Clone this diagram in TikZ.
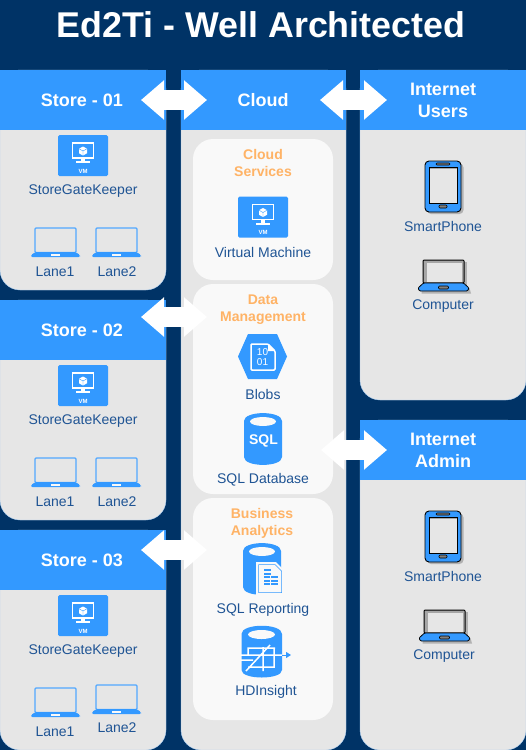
\documentclass[tikz,border=0pt]{standalone}
\usepackage{fontspec}
\setmainfont{Liberation Sans}
\usepackage{tikz}
\usetikzlibrary{arrows.meta, positioning}
\definecolor{fondo}{HTML}{003366}
\definecolor{azul}{HTML}{3399FF}
\definecolor{gris}{HTML}{E6E6E6}
\definecolor{claro}{HTML}{F9F9F9}
\definecolor{naranja}{HTML}{FFB366}
\definecolor{texto}{HTML}{1F5494}
\tikzset{
	titulo/.style={font=\fontsize{35.8}{40}\bfseries\selectfont, text=white},
	cabecera/.style={font=\fontsize{18}{22}\bfseries\selectfont, text=white, align=center},
	grupo/.style={font=\fontsize{14}{17}\bfseries\selectfont, text=naranja, align=center},
	etiqueta/.style={font=\fontsize{14}{17}\selectfont, text=texto},
	panel/.style={fill=gris, draw=azul!35!gris, line width=0.4pt, rounded corners=20pt},
	flecha/.style={line width=20pt, white, {Triangle[length=23pt,width=38pt]}-{Triangle[length=23pt,width=38pt]}},
	pics/vmicon/.style={code={
		\fill[azul, rounded corners=1.5pt] (-25,-20.5) rectangle (25,20.5);
		\draw[white, line width=1.3pt] (-10.5,-12.5) rectangle (10.5,2.5);
		\fill[white] (-2,2.5) rectangle (2,6);
		\fill[white] (-7,5.5) rectangle (7,7.5);
		\fill[white] (0,-9) -- (4,-6.8) -- (4,-2.2) -- (0,0) -- (-4,-2.2) -- (-4,-6.8) -- cycle;
		\draw[azul, line width=0.4pt] (-4,-6.8) -- (0,-4.5) -- (4,-6.8) (0,-4.5) -- (0,0);
		\node[font=\fontsize{6}{6}\bfseries\selectfont, text=white] (-vm) at (0,15.5) {VM};
	}},
	pics/laptopicon/.style={code={
		\draw[azul!85!white, line width=1.1pt, fill=gris, rounded corners=1pt] (-20.5,-14) rectangle (20.5,10.5);
		\fill[azul, rounded corners=1.5pt] (-20,10) -- (20,10) -- (24.5,13) -- (24.5,15) -- (-24.5,15) -- (-24.5,13) -- cycle;
		\fill[claro] (-4.5,12) rectangle (4.5,13.5);
	}},
	pics/phoneicon/.style={code={
		\fill[black!30, rounded corners=4pt] (-16,-23) rectangle (20.5,27.5);
		\draw[black, line width=0.9pt, fill=azul, rounded corners=4pt] (-18,-25.5) rectangle (18,25.5);
		\draw[black, line width=0.8pt, fill=black!35] (-14,-19.5) rectangle (14,16.5);
		\fill[gris] (-12.8,-18) rectangle (13.5,16);
		\draw[black, line width=0.6pt, fill=gray, rounded corners=1pt] (-7,-23.5) rectangle (7,-21.5);
		\draw[black, line width=0.6pt, fill=gray, rounded corners=1pt] (-4,18.5) rectangle (4,21.5);
	}},
	pics/computericon/.style={code={
		\fill[black!30] (-18,-13) rectangle (23,11);
		\fill[black!30] (-22,13) -- (26,13) -- (27.5,18.5) -- (-22,18.5) -- cycle;
		\draw[black, line width=1pt, fill=black!35, rounded corners=1pt] (-20.5,-15) rectangle (20.5,8);
		\fill[gris] (-16.8,-12) rectangle (18,7);
		\draw[black, line width=0.8pt, fill=azul, rounded corners=1pt] (-20,8) -- (20,8) -- (25.5,13) -- (24,16) -- (-24,16) -- (-25.5,13) -- cycle;
		\draw[black, line width=0.6pt, fill=gray, rounded corners=1pt] (-5,11) rectangle (5,14);
	}},
	pics/cilindro/.style={code={
		\fill[azul] (-19,-18) -- (-19,18) .. controls (-19,28.5) and (19,28.5) .. (19,18) -- (19,-18) .. controls (19,-28.5) and (-19,-28.5) .. (-19,-18) -- cycle;
		\fill[claro] (0,-17.5) ellipse (13 and 4.5);
	}},
}
\newcommand{\tienda}[4]{% y, nombre, x de los portatiles
	\fill[panel] (0,#1) rectangle (166,#1+220);
	\fill[azul] (0,#1) rectangle (166,#1+60);
	\node[cabecera] (#4head) at (82,#1+30) {#2};
	\pic (#4vm) at (83,#1+85.5) {vmicon};
	\node[etiqueta] (#4gate) at (83,#1+121) {StoreGateKeeper};
	\pic (#4a) at (#3) {laptopicon};
}
\begin{document}
\begin{tikzpicture}[x=1pt, y=-1pt]
	\useasboundingbox (0,0) rectangle (526,750);
	\fill[fondo] (0,0) rectangle (526,750);
	\node[titulo] (title) at (261,25) {Ed2Ti - Well Architected};

	% Tiendas
	\tienda{70}{Store - 01}{55.5,242}{storeA}
	\pic (laptopA) at (116.5,242) {laptopicon};
	\node[etiqueta] (laneA) at (55,272) {Lane1};
	\node[etiqueta] (laneB) at (117,272) {Lane2};
	\tienda{300}{Store - 02}{55.5,472}{storeB}
	\pic (laptopB) at (116.5,472) {laptopicon};
	\node[etiqueta] (laneC) at (55,502) {Lane1};
	\node[etiqueta] (laneD) at (117,502) {Lane2};
	\tienda{530}{Store - 03}{55.5,702}{storeC}
	\pic (laptopC) at (116.5,699) {laptopicon};
	\node[etiqueta] (laneE) at (55,732) {Lane1};
	\node[etiqueta] (laneF) at (117,728) {Lane2};

	% Nube
	\fill[panel] (181,70) rectangle (346,750);
	\fill[azul] (181,70) rectangle (346,130);
	\node[cabecera] (cloud) at (263,100) {Cloud};
	\fill[claro, rounded corners=20pt] (193,139) rectangle (333,280);
	\fill[claro, rounded corners=20pt] (193,284) rectangle (333,494);
	\fill[claro, rounded corners=20pt] (193,498) rectangle (333,720);

	\node[grupo] (services) at (263,163) {Cloud\\Services};
	\pic (vmcloud) at (263,217) {vmicon};
	\node[etiqueta] (vmlabel) at (263,252) {Virtual Machine};

	\node[grupo] (data) at (263,310) {Data\\Management};
	\fill[azul] (238,356.5) -- (248,334) -- (277,334) -- (287,356.5) -- (277,379) -- (248,379) -- cycle;
	\draw[white, line width=1.5pt, rounded corners=1pt] (251,344) -- (268,344) -- (275,351) -- (275,370) -- (251,370) -- cycle;
	\fill[white] (268,344) -- (275,351) -- (268,351) -- cycle;
	\node[font=\fontsize{10}{10.5}\selectfont, text=white, align=center] (bits) at (262.5,357) {10\\01};
	\node[etiqueta] (blobs) at (263,394) {Blobs};
	\pic (sqlicon) at (263,439) {cilindro};
	\node[font=\fontsize{14}{14}\bfseries\selectfont, text=white] (sqltext) at (263.5,441) {SQL};
	\node[etiqueta] (sqldb) at (263,480) {SQL Database};

	\node[grupo] (business) at (262,523) {Business\\Analytics};
	\pic (repicon) at (262,569) {cilindro};
	\fill[claro] (256,562) -- (276,562) -- (284,570) -- (284,595) -- (256,595) -- cycle;
	\draw[azul, line width=0.5pt] (258.5,564.5) -- (275,564.5) -- (281.5,571) -- (281.5,592.5) -- (258.5,592.5) -- cycle;
	\foreach \yy in {569,572.5} {
		\fill[azul] (264,\yy) rectangle (270.5,\yy+2);
	}
	\foreach \yy in {576,579.5,583} {
		\fill[azul] (264,\yy) rectangle (270,\yy+2);
		\fill[azul] (271,\yy) rectangle (277.5,\yy+2);
	}
	\node[etiqueta] (reporting) at (263,610) {SQL Reporting};
	\fill[azul] (241.5,644) -- (241.5,670) .. controls (241.5,680) and (282,680) .. (282,670) -- (282,634) .. controls (282,623) and (241.5,623) .. (241.5,634) -- cycle;
	\fill[claro] (261.5,634.5) ellipse (13.5 and 4.5);
	% Simbolo
	\draw[white, line width=1.5pt] (248,655) -- (248,648) -- (275,648) (241,655) -- (282,655) (248,667) -- (274,667) -- (274,648) (263,647) -- (263,671) (246,671) -- (270,645) (253,660) -- (241,660);
	\coordinate (hdA) at (282,655);
	\coordinate (hdB) at (291,655);
	\draw[azul, line width=1pt, -{Triangle[length=5pt,width=6pt]}] (hdA) -- (hdB);
	\node[etiqueta] (hdinsight) at (266,692) {HDInsight};

	% Usuarios
	\fill[panel] (360,70) rectangle (526,400);
	\fill[azul] (360,70) rectangle (526,130);
	\node[cabecera] (users) at (443,100) {Internet\\Users};
	\pic (phoneA) at (443,186.5) {phoneicon};
	\node[etiqueta] (phoneAl) at (443,226) {SmartPhone};
	\pic (compA) at (443.5,275) {computericon};
	\node[etiqueta] (compAl) at (443,306) {Computer};

	% Administrador
	\fill[panel] (360,420) rectangle (526,750);
	\fill[azul] (360,420) rectangle (526,480);
	\node[cabecera] (admin) at (443,450) {Internet\\Admin};
	\pic (phoneB) at (443,536.5) {phoneicon};
	\node[etiqueta] (phoneBl) at (443,576) {SmartPhone};
	\pic (compB) at (444.5,625) {computericon};
	\node[etiqueta] (compBl) at (444,656) {Computer};

	% Flechas
	\coordinate (fA1) at (141,100); \coordinate (fA2) at (207,100);
	\coordinate (fB1) at (320,100); \coordinate (fB2) at (387,100);
	\coordinate (fC1) at (141,317); \coordinate (fC2) at (207,317);
	\coordinate (fD1) at (321,450); \coordinate (fD2) at (387,450);
	\coordinate (fE1) at (141,550); \coordinate (fE2) at (207,550);
	\draw[flecha] (fA1) -- (fA2);
	\draw[flecha] (fB1) -- (fB2);
	\draw[flecha] (fC1) -- (fC2);
	\draw[flecha] (fD1) -- (fD2);
	\draw[flecha] (fE1) -- (fE2);
\end{tikzpicture}
\end{document}
